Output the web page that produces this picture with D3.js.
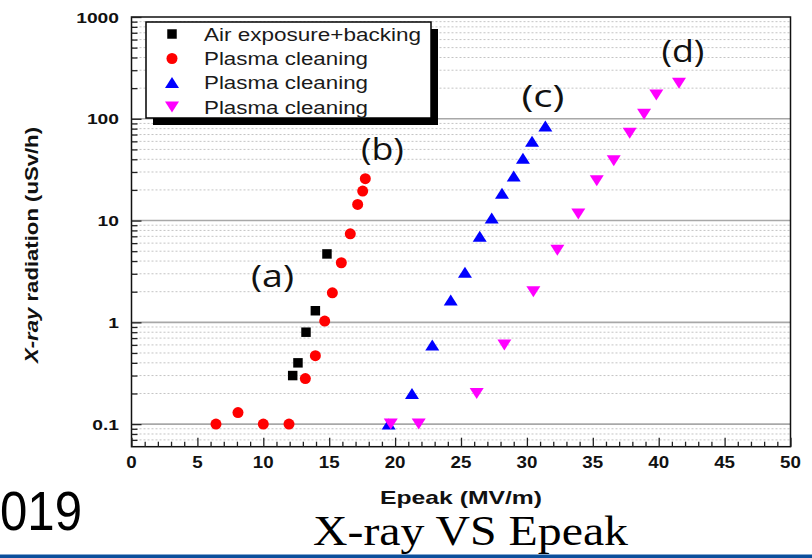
<!DOCTYPE html>
<html>
<head>
<meta charset="utf-8">
<script src="https://cdn.jsdelivr.net/npm/d3@7"></script>
<style>
  html, body { margin: 0; padding: 0; background: #fff; }
  svg { display: block; }
</style>
</head>
<body>
<svg id="chart" width="812" height="558"></svg>
<script>
// Series: X-ray dose rate versus peak surface field
const airX = [12.23, 12.63, 13.24, 13.95, 14.83];
const airY = [0.30, 0.40, 0.80, 1.30, 4.7];

const plasmaBX = [6.41, 8.08, 10.0, 11.95, 13.19, 13.95, 14.66, 15.24, 15.92, 16.60, 17.16, 17.54, 17.74];
const plasmaBY = [0.10, 0.13, 0.10, 0.10, 0.28, 0.47, 1.03, 1.95, 3.85, 7.4, 14.4, 19.5, 25.8];

const plasmaCX = [19.51, 21.28, 22.82, 24.22, 25.30, 26.42, 27.33, 28.11, 29.0, 29.70, 30.39, 31.40];
const plasmaCY = [0.10, 0.20, 0.60, 1.66, 3.1, 7.0, 10.6, 18.5, 27.4, 41, 60, 85];

const plasmaDX = [19.67, 21.79, 26.19, 28.29, 30.49, 32.31, 33.90, 35.30, 36.59, 37.80, 38.89, 39.82, 41.54];
const plasmaDY = [0.10, 0.10, 0.20, 0.60, 2.0, 5.1, 11.6, 24.6, 38.7, 72, 111, 171, 223];

const legendLabels = ["Air exposure+backing", "Plasma cleaning", "Plasma cleaning", "Plasma cleaning"];
const xTicks = [0, 5, 10, 15, 20, 25, 30, 35, 40, 45, 50];
const yTicks = [0.1, 1, 10, 100, 1000];
const yTickLabels = ["0.1", "1", "10", "100", "1000"];

const annotations = [
  { text: "(a)", x: 10.7, y: 2.2 },
  { text: "(b)", x: 19.04, y: 39 },
  { text: "(c)", x: 31.22, y: 131 },
  { text: "(d)", x: 41.84, y: 361 }
];

const svg = d3.select("#chart");
const W = 812, H = 558;
const plot = { left: 131.5, right: 790.5, top: 17, bottom: 446.7 };

const x = d3.scaleLinear().domain([0, 50]).range([plot.left, plot.right]);
const y = d3.scaleLog().domain([0.06, 1000]).range([plot.bottom, plot.top]);

// stretch text horizontally by a factor
function widen(sel, f) {
  sel.each(function () {
    const n = this.getComputedTextLength();
    d3.select(this).attr("textLength", n * f).attr("lengthAdjust", "spacingAndGlyphs");
  });
}

// gridlines: minor dotted, major solid
const minorVals = [];
[0.01, 0.1, 1, 10, 100].forEach(d => {
  for (let k = 2; k <= 9; k++) {
    const v = d * k;
    if (v > 0.06 && v < 1000) minorVals.push(v);
  }
});
svg.append("g").selectAll("line").data(minorVals).join("line")
  .attr("x1", plot.left).attr("x2", plot.right)
  .attr("y1", d => y(d)).attr("y2", d => y(d))
  .attr("stroke", "#c4c4c4").attr("stroke-width", 1)
  .attr("stroke-dasharray", "2,2");
svg.append("g").selectAll("line").data(yTicks.slice(0, 4)).join("line")
  .attr("x1", plot.left).attr("x2", plot.right)
  .attr("y1", d => y(d)).attr("y2", d => y(d))
  .attr("stroke", "#a8a8a8").attr("stroke-width", 1.6);

// frame
svg.append("rect")
  .attr("x", plot.left).attr("y", plot.top)
  .attr("width", plot.right - plot.left).attr("height", plot.bottom - plot.top)
  .attr("fill", "none").attr("stroke", "#111").attr("stroke-width", 1.5);

// inward ticks on the left axis
const yAxis = d3.axisRight(y)
  .tickValues(minorVals.concat(yTicks))
  .tickSize(0).tickFormat("");
const yAxisG = svg.append("g").attr("transform", `translate(${plot.left},0)`).call(yAxis);
yAxisG.select(".domain").remove();
yAxisG.selectAll(".tick line")
  .attr("x2", d => yTicks.includes(d) ? 10 : 6)
  .attr("stroke", "#222").attr("stroke-width", 1.3);

// inward ticks on the bottom axis
const xAxis = d3.axisTop(x).tickValues(d3.range(0, 51, 1)).tickSize(0).tickFormat("");
const xAxisG = svg.append("g").attr("transform", `translate(0,${plot.bottom})`).call(xAxis);
xAxisG.select(".domain").remove();
xAxisG.selectAll(".tick line")
  .attr("y2", d => d % 5 === 0 ? -9 : -5)
  .attr("stroke", "#222").attr("stroke-width", 1.3);

// tick labels
svg.append("g").selectAll("text").data(yTicks).join("text")
  .attr("x", 119).attr("y", d => y(d) + 5.5)
  .attr("text-anchor", "end")
  .attr("font-family", "Liberation Sans, Arial, sans-serif")
  .attr("font-weight", "bold").attr("font-size", 15.5).attr("fill", "#111")
  .text((d, i) => yTickLabels[i])
  .call(widen, 1.24);

svg.append("g").selectAll("text").data(xTicks).join("text")
  .attr("x", d => x(d)).attr("y", 468)
  .attr("text-anchor", "middle")
  .attr("font-family", "Liberation Sans, Arial, sans-serif")
  .attr("font-weight", "bold").attr("font-size", 16).attr("fill", "#111")
  .text(d => d)
  .call(widen, 1.17);

// axis titles
const yTitle = svg.append("text")
  .attr("transform", "translate(38,245) rotate(-90)")
  .attr("text-anchor", "middle")
  .attr("font-family", "Liberation Sans, Arial, sans-serif")
  .attr("font-weight", "bold").attr("font-size", 19).attr("fill", "#111");
yTitle.append("tspan").attr("font-style", "italic").text("X-ray");
yTitle.append("tspan").text(" radiation (uSv/h)");
yTitle.attr("textLength", 236).attr("lengthAdjust", "spacingAndGlyphs");

svg.append("text")
  .attr("x", 461).attr("y", 504)
  .attr("text-anchor", "middle")
  .attr("font-family", "Liberation Sans, Arial, sans-serif")
  .attr("font-weight", "bold").attr("font-size", 19).attr("fill", "#111")
  .text("Epeak (MV/m)")
  .attr("textLength", 162).attr("lengthAdjust", "spacingAndGlyphs");

// markers
const sym = {
  square: d3.symbol().type(d3.symbolSquare).size(90),
  circle: d3.symbol().type(d3.symbolCircle).size(95)
};
function triPath(up, w, h) {
  return up
    ? `M0,${-h / 2}L${w / 2},${h / 2}L${-w / 2},${h / 2}Z`
    : `M0,${h / 2}L${w / 2},${-h / 2}L${-w / 2},${-h / 2}Z`;
}
function drawSeries(xs, ys, pathD, color) {
  svg.append("g").selectAll("path").data(xs).join("path")
    .attr("transform", (d, i) => `translate(${x(d)},${y(ys[i])})`)
    .attr("d", pathD)
    .attr("fill", color);
}
drawSeries(airX, airY, sym.square(), "#000");
drawSeries(plasmaBX, plasmaBY, sym.circle(), "#ff0000");
drawSeries(plasmaCX, plasmaCY, triPath(true, 14, 11), "#0000ff");
drawSeries(plasmaDX, plasmaDY, triPath(false, 14, 11), "#ff00ff");

// annotations
svg.append("g").selectAll("text").data(annotations).join("text")
  .attr("x", d => x(d.x)).attr("y", d => y(d.y))
  .attr("text-anchor", "middle")
  .attr("font-family", "Open Sans, Noto Sans, sans-serif")
  .attr("font-size", 31).attr("fill", "#111")
  .text(d => d.text)
  .attr("textLength", 43).attr("lengthAdjust", "spacingAndGlyphs");

// legend with drop shadow
const lg = svg.append("g");
lg.append("rect").attr("x", 153).attr("y", 29).attr("width", 285).attr("height", 96).attr("fill", "#000");
lg.append("rect").attr("x", 146).attr("y", 22).attr("width", 285).attr("height", 96)
  .attr("fill", "#fff").attr("stroke", "#000").attr("stroke-width", 1.5);
const legendMarks = [
  { d: sym.square(), c: "#000" },
  { d: sym.circle(), c: "#ff0000" },
  { d: triPath(true, 14, 11), c: "#0000ff" },
  { d: triPath(false, 14, 11), c: "#ff00ff" }
];
const rowY = [34, 58.5, 82.5, 107];
lg.selectAll("path").data(legendMarks).join("path")
  .attr("transform", (d, i) => `translate(172,${rowY[i]})`)
  .attr("d", d => d.d).attr("fill", d => d.c);
lg.selectAll("text").data(legendLabels).join("text")
  .attr("x", 204).attr("y", (d, i) => rowY[i] + 6.5)
  .attr("font-family", "Liberation Sans, Arial, sans-serif")
  .attr("font-size", 17.5).attr("fill", "#1a1a1a")
  .text(d => d)
  .attr("textLength", (d, i) => i === 0 ? 217 : 164)
  .attr("lengthAdjust", "spacingAndGlyphs");

// slide footer
svg.append("text")
  .attr("x", 0).attr("y", 530)
  .attr("font-family", "Liberation Sans, Arial, sans-serif")
  .attr("font-size", 56).attr("fill", "#000")
  .text("019")
  .attr("textLength", 82).attr("lengthAdjust", "spacingAndGlyphs");

svg.append("text")
  .attr("x", 313).attr("y", 545)
  .attr("font-family", "Liberation Serif, Times New Roman, serif")
  .attr("font-size", 42).attr("fill", "#000")
  .text("X-ray VS Epeak")
  .attr("textLength", 315).attr("lengthAdjust", "spacingAndGlyphs");

svg.append("rect").attr("x", 0).attr("y", 554.5).attr("width", W).attr("height", 3.5).attr("fill", "#0b4f9c");
</script>
</body>
</html>
